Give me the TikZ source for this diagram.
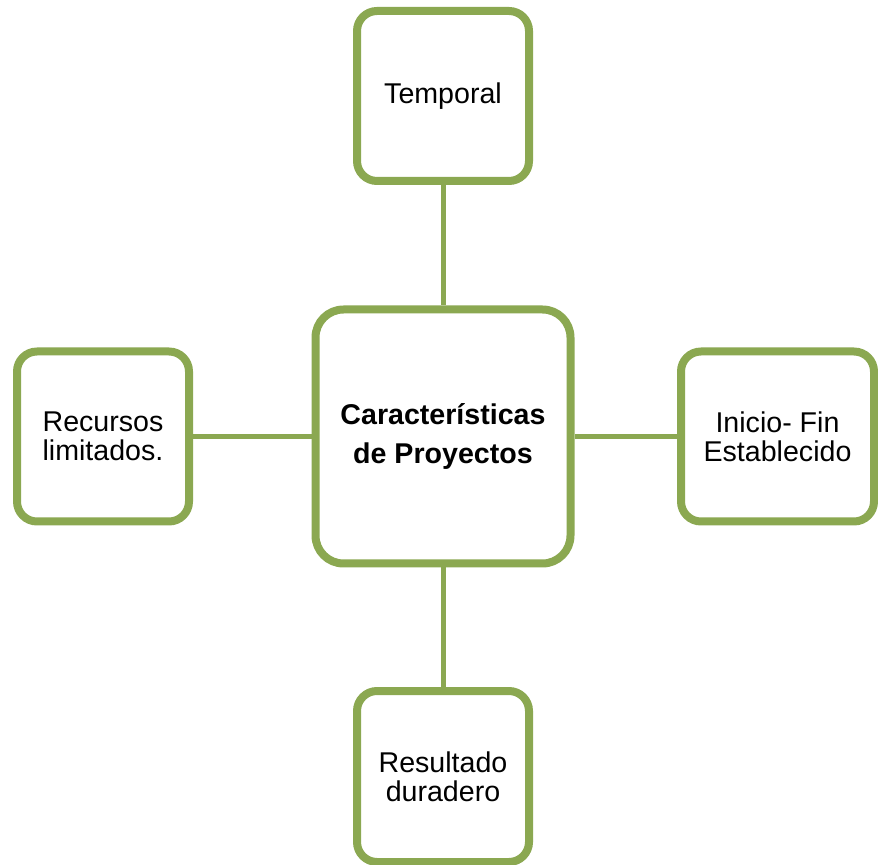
\documentclass[tikz,border=0pt]{standalone}
\usepackage{fontspec}
\setmainfont{Liberation Sans}
\usepackage{xcolor}
\usetikzlibrary{shapes,positioning,calc,shadows}

\definecolor{olivegreen}{RGB}{139,168,81}

\tikzset{
  box/.style={draw=olivegreen, line width=4pt, fill=white, rounded corners=10pt,
    minimum width=86pt, minimum height=85pt, align=center, inner sep=2pt,
    font=\fontsize{14.3}{14.6}\selectfont,
    drop shadow={opacity=0.3, shadow xshift=0.8pt, shadow yshift=-1.6pt}},
  bigbox/.style={box, rounded corners=14pt, minimum width=127.5pt, minimum height=127pt,
    font=\fontsize{14.3}{19.5}\selectfont\bfseries},
  link/.style={draw=olivegreen, line width=2.5pt}
}

\begin{document}
\begin{tikzpicture}[x=0.5pt,y=-0.5pt]
\useasboundingbox (0,0) rectangle (878,865);
% Boxes
\node[bigbox] (centro) at (443,436.5) {Características\\de Proyectos};
\node[box] (temporal) at (443,96) {Temporal};
\node[box] (recursos) at (103,436.5) {Recursos\\limitados.};
\node[box, minimum width=96.5pt] (iniciofin) at (777.5,436.5) {Inicio- Fin\\Establecido};
\node[box, minimum height=85.5pt] (resultado) at (443,776.5) {Resultado\\duradero};
% Links
\draw[link] (temporal) -- (centro);
\draw[link] (resultado) -- (centro);
\draw[link] (recursos) -- (centro);
\draw[link] (iniciofin) -- (centro);
\end{tikzpicture}
\end{document}
